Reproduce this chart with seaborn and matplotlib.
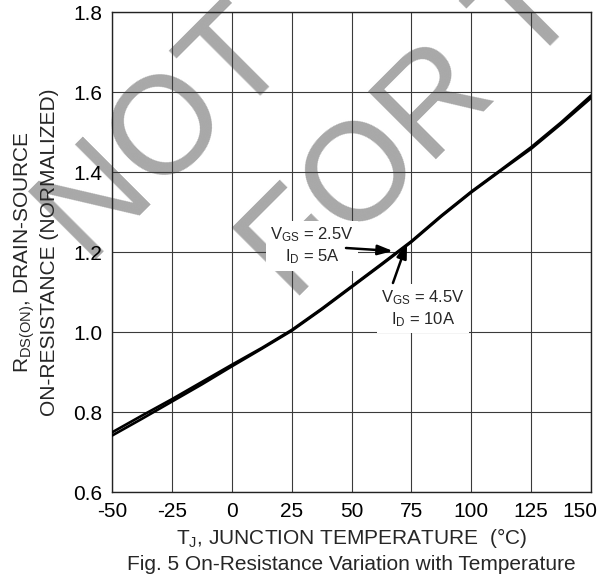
import matplotlib
matplotlib.use("Agg")
import matplotlib.pyplot as plt
import matplotlib.transforms as mtransforms
import seaborn as sns
import pandas as pd

# ---- data ----
temps = [-50, -37.5, -25, -12.5, 0, 12.5, 25, 37.5, 50, 62.5, 75, 87.5,
         100, 112.5, 125, 137.5, 150]
r_vgs25 = [0.741, 0.783, 0.826, 0.869, 0.914, 0.958, 1.003, 1.056, 1.112,
           1.168, 1.225, 1.289, 1.349, 1.404, 1.458, 1.520, 1.585]
r_vgs45 = [0.749, 0.791, 0.832, 0.875, 0.918, 0.960, 1.005, 1.058, 1.114,
           1.170, 1.227, 1.291, 1.351, 1.406, 1.462, 1.524, 1.591]
series_names = ["VGS=2.5V, ID=5A", "VGS=4.5V, ID=10A"]
x_ticks = [-50, -25, 0, 25, 50, 75, 100, 125, 150]
y_ticks = [0.6, 0.8, 1.0, 1.2, 1.4, 1.6, 1.8]

df = pd.DataFrame({
    "T": temps * 2,
    "R": r_vgs25 + r_vgs45,
    "cond": [series_names[0]] * len(temps) + [series_names[1]] * len(temps),
})

sns.set_style("white")
plt.rcParams["font.family"] = ["Liberation Sans", "DejaVu Sans"]
plt.rcParams["mathtext.fontset"] = "custom"
plt.rcParams["mathtext.rm"] = "Liberation Sans"
plt.rcParams["mathtext.it"] = "Liberation Sans"

fig = plt.figure(figsize=(6.0, 5.77), dpi=100, facecolor="white")
ax = fig.add_axes([112/600, 85/577, 479/600, 480/577])
ax.set_facecolor("none")
ax.set_zorder(1)

# watermark (drawn under the axes)
wm = dict(fontsize=100, color="#a8a8a8", rotation=45, rotation_mode="anchor",
          family="Liberation Sans", zorder=0, ha="left", va="baseline")
fig.text(85/600, 1 - 259/577, "NOT", **wm)
fig.text(292/600, 1 - 303/577, "FOR T", **wm)

sns.lineplot(data=df, x="T", y="R", units="cond", estimator=None,
             color="black", linewidth=1.9, ax=ax, legend=False, zorder=3)

ax.set_xlim(-50, 150)
ax.set_ylim(0.6, 1.8)
ax.set_xticks(x_ticks)
ax.set_yticks(y_ticks)
ax.set_xticklabels([str(v) for v in x_ticks])
ax.set_yticklabels([f"{v:.1f}" for v in y_ticks])
ax.tick_params(length=0, pad=7, labelsize=15, colors="black")
# last x tick label sits inside the figure edge, as in the reference
lab = ax.get_xticklabels()[-1]
lab.set_transform(lab.get_transform() +
                  mtransforms.ScaledTranslation(-11/100, 0, fig.dpi_scale_trans))
ax.grid(True, color="#3a3a3a", linewidth=0.8)
for s in ax.spines.values():
    s.set_color("#222222")
    s.set_linewidth(1.0)

ax.set_xlabel(r"T$_{\mathrm{J}}$, JUNCTION TEMPERATURE  (°C)", fontsize=15, labelpad=4)
ax.set_ylabel("R$_{\\mathrm{DS(ON)}}$, DRAIN-SOURCE\nON-RESISTANCE (NORMALIZED)",
              fontsize=15, labelpad=10, linespacing=1.25)

box = dict(facecolor="white", edgecolor="none", pad=3)
ax.text(33.5, 1.215, "V$_{\\mathrm{GS}}$ = 2.5V\nI$_{\\mathrm{D}}$ = 5A", fontsize=12,
        ha="center", va="center", bbox=box, zorder=4, linespacing=1.25)
ax.text(79.9, 1.059, "V$_{\\mathrm{GS}}$ = 4.5V\nI$_{\\mathrm{D}}$ = 10A", fontsize=12,
        ha="center", va="center", bbox=box, zorder=4, linespacing=1.25)
arrow = dict(arrowstyle="-|>,head_length=0.9,head_width=0.3", color="black", lw=1.8,
             shrinkA=0, shrinkB=0)
ax.annotate("", xy=(67.3, 1.2025), xytext=(47.7, 1.210), arrowprops=arrow, zorder=5)
ax.annotate("", xy=(73.2, 1.2225), xytext=(67.3, 1.1225), arrowprops=arrow, zorder=5)

fig.text(351/600, 1 - 565/577, "Fig. 5 On-Resistance Variation with Temperature",
         ha="center", va="center", fontsize=15)

fig.savefig("out.png", dpi=100, facecolor="white")
